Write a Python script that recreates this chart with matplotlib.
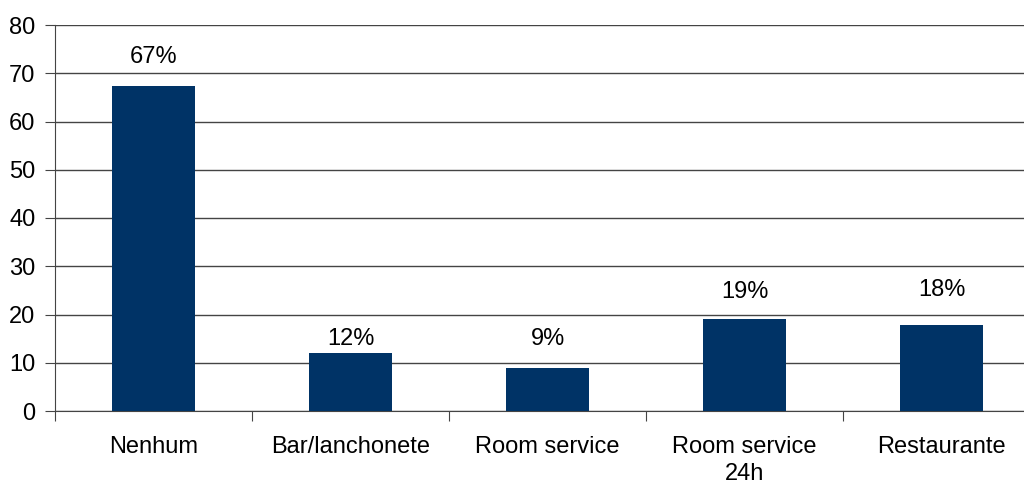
import matplotlib.pyplot as plt
import numpy as np

# Data
categories = ["Nenhum", "Bar/lanchonete", "Room service", "Room service\n24h", "Restaurante"]
values = [67.4, 12.0, 8.9, 19.1, 17.8]
labels = ["67%", "12%", "9%", "19%", "18%"]
# where each percentage label sits (data units, bottom of text)
label_y = [71.0, 12.6, 12.6, 22.3, 22.7]

plt.rcParams['font.family'] = ['Liberation Sans', 'DejaVu Sans']

fig = plt.figure(figsize=(10.24, 4.87), dpi=100)
# plot area runs past the right edge, as in the reference
ax = fig.add_axes([55 / 1024, 76 / 487, 985 / 1024, 386 / 487])

x = np.arange(len(categories))
ax.bar(x, values, width=0.42, color='#003366', zorder=3)

for xi, lab, ly in zip(x, labels, label_y):
    ax.text(xi, ly, lab, ha='center', va='bottom', fontsize=17, color='black')

ax.set_xlim(-0.5, len(categories) - 0.5)
ax.set_ylim(0, 80)
ax.set_yticks(range(0, 81, 10))
ax.yaxis.grid(True, color='#444444', linewidth=1)
ax.set_axisbelow(True)

# category ticks on the boundaries, labels centered
ax.set_xticks(np.arange(-0.5, len(categories) + 0.5, 1))
ax.set_xticklabels([])
ax.set_xticks(x, minor=True)
ax.set_xticklabels(categories, minor=True, fontsize=17, linespacing=1.3)
ax.tick_params(axis='x', which='minor', length=0, pad=18)
ax.tick_params(axis='x', which='major', length=7, color='#444444', direction='out')
ax.tick_params(axis='y', length=7, color='#444444', labelsize=17, pad=7)

for side in ['top', 'right']:
    ax.spines[side].set_visible(False)
ax.spines['left'].set_color('#444444')
ax.spines['bottom'].set_color('#444444')

plt.savefig('out.png', dpi=100)
